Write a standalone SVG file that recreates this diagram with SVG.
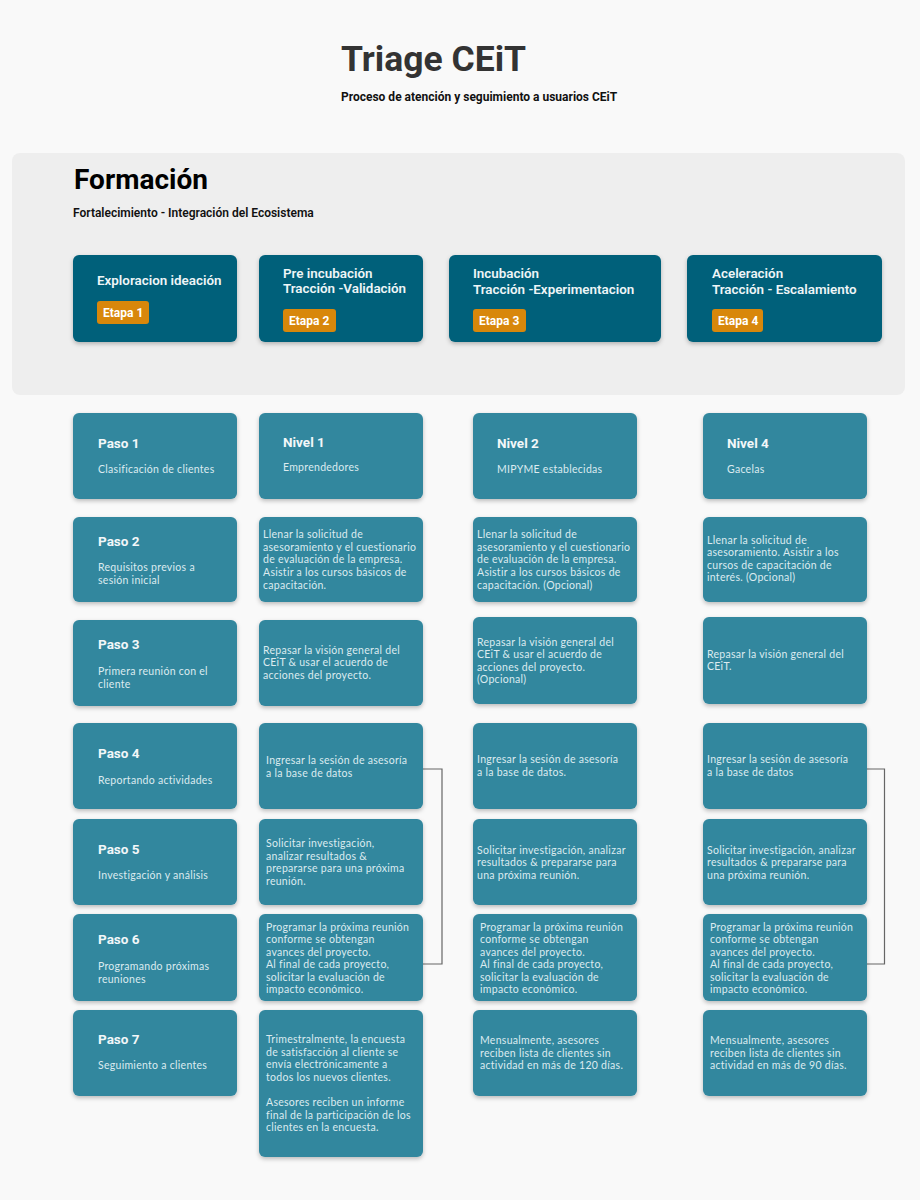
<svg xmlns="http://www.w3.org/2000/svg" width="920" height="1200" viewBox="0 0 920 1200">
<defs>
<filter id="sh" x="-10%" y="-10%" width="120%" height="130%">
<feDropShadow dx="0" dy="2" stdDeviation="2" flood-color="#000" flood-opacity="0.25"/>
</filter>
<style>
.title{font-family:Roboto,"Liberation Sans",sans-serif;font-weight:700;font-size:35.5px;fill:#333333}
.sub{font-family:Roboto,"Liberation Sans",sans-serif;font-weight:700;font-size:12px;fill:#111111}
.ptitle{font-family:Roboto,"Liberation Sans",sans-serif;font-weight:700;font-size:28px;fill:#000000}
.psub{font-family:Roboto,"Liberation Sans",sans-serif;font-weight:600;font-size:12px;fill:#111111}
.stage{fill:#03607a;filter:url(#sh)}
.card{fill:#32879e;filter:url(#sh)}
.badge{fill:#d8870b}
.sh{font-family:Roboto,"Liberation Sans",sans-serif;font-weight:600;font-size:13.4px;fill:#eef5f7}
.bt{font-family:Roboto,"Liberation Sans",sans-serif;font-weight:700;font-size:12px;fill:#ffffff}
.h{font-family:Roboto,"Liberation Sans",sans-serif;font-weight:700;font-size:13.5px;fill:#f2f7f9}
.t{font-family:Lato,"Liberation Sans",sans-serif;font-size:10.5px;letter-spacing:0.28px;fill:#dcebf0}
.conn{fill:none;stroke:#666666;stroke-width:1.2}
</style>
</defs>
<rect x="0" y="0" width="920" height="1200" fill="#f9f9f9"/>
<text class="title" x="341" y="71">Triage CEiT</text>
<text class="sub" x="341" y="101">Proceso de atención y seguimiento a usuarios CEiT</text>

<g id="panel">
<rect x="12" y="153" width="893" height="242" rx="8" fill="#eeeeee"/>
<text class="ptitle" x="74" y="189">Formación</text>
<text class="psub" x="73" y="217">Fortalecimiento - Integración del Ecosistema</text>
</g>

<g id="etapa1">
<rect class="stage" x="73" y="255" width="164" height="87" rx="6"/>
<text class="sh" x="97" y="285">Exploracion ideación</text>
<rect class="badge" x="97" y="301" width="52" height="23" rx="3"/>
<text class="bt" x="103" y="317">Etapa 1</text>
</g>
<g id="etapa2">
<rect class="stage" x="259" y="255" width="164" height="87" rx="6"/>
<text class="sh" x="283" y="278">Pre incubación</text>
<text class="sh" x="283" y="293">Tracción -Validación</text>
<rect class="badge" x="283" y="309" width="53" height="23" rx="3"/>
<text class="bt" x="289" y="325">Etapa 2</text>
</g>
<g id="etapa3">
<rect class="stage" x="449" y="255" width="212" height="87" rx="6"/>
<text class="sh" x="473" y="278">Incubación</text>
<text class="sh" x="473" y="294">Tracción -Experimentacion</text>
<rect class="badge" x="473" y="309" width="53" height="23" rx="3"/>
<text class="bt" x="479" y="325">Etapa 3</text>
</g>
<g id="etapa4">
<rect class="stage" x="687" y="255" width="195" height="87" rx="6"/>
<text class="sh" x="712" y="278">Aceleración</text>
<text class="sh" x="712" y="294">Tracción - Escalamiento</text>
<rect class="badge" x="712" y="309" width="51" height="23" rx="3"/>
<text class="bt" x="718" y="325">Etapa 4</text>
</g>

<g id="connectors">
<polyline class="conn" points="423,769 442,769 442,964 423,964"/>
<polyline class="conn" points="867,769 884.5,769 884.5,964 867,964"/>
</g>

<!-- Column 1 -->
<g id="paso1">
<rect class="card" x="73" y="413" width="164" height="86" rx="6"/>
<text class="h" x="98" y="448">Paso 1</text>
<text class="t" x="98" y="473">Clasificación de clientes</text>
</g>
<g id="paso2">
<rect class="card" x="73" y="517" width="164" height="85" rx="6"/>
<text class="h" x="98" y="546">Paso 2</text>
<text class="t" x="98" y="571">Requisitos previos a</text>
<text class="t" x="98" y="584">sesión inicial</text>
</g>
<g id="paso3">
<rect class="card" x="73" y="620" width="164" height="86" rx="6"/>
<text class="h" x="98" y="649">Paso 3</text>
<text class="t" x="98" y="675">Primera reunión con el</text>
<text class="t" x="98" y="688">cliente</text>
</g>
<g id="paso4">
<rect class="card" x="73" y="723" width="164" height="86" rx="6"/>
<text class="h" x="98" y="758">Paso 4</text>
<text class="t" x="98" y="784">Reportando actividades</text>
</g>
<g id="paso5">
<rect class="card" x="73" y="819" width="164" height="86" rx="6"/>
<text class="h" x="98" y="854">Paso 5</text>
<text class="t" x="98" y="879">Investigación y análisis</text>
</g>
<g id="paso6">
<rect class="card" x="73" y="914" width="164" height="87" rx="6"/>
<text class="h" x="98" y="944">Paso 6</text>
<text class="t" x="98" y="970">Programando próximas</text>
<text class="t" x="98" y="983">reuniones</text>
</g>
<g id="paso7">
<rect class="card" x="73" y="1010" width="164" height="86" rx="6"/>
<text class="h" x="98" y="1044">Paso 7</text>
<text class="t" x="98" y="1069">Seguimiento a clientes</text>
</g>

<!-- Column 2: Nivel 1 -->
<g id="nivel1">
<rect class="card" x="259" y="413" width="164" height="86" rx="6"/>
<text class="h" x="283" y="447">Nivel 1</text>
<text class="t" x="283" y="471">Emprendedores</text>
</g>
<g id="n1-paso2">
<rect class="card" x="259" y="517" width="164" height="85" rx="6"/>
<text class="t" x="263" y="538">Llenar la solicitud de</text>
<text class="t" x="263" y="551">asesoramiento y el cuestionario</text>
<text class="t" x="263" y="563">de evaluación de la empresa.</text>
<text class="t" x="263" y="576">Asistir a los cursos básicos de</text>
<text class="t" x="263" y="589">capacitación.</text>
</g>
<g id="n1-paso3">
<rect class="card" x="259" y="620" width="164" height="86" rx="6"/>
<text class="t" x="263" y="654">Repasar la visión general del</text>
<text class="t" x="263" y="666">CEiT &amp; usar el acuerdo de</text>
<text class="t" x="263" y="679">acciones del proyecto.</text>
</g>
<g id="n1-paso4">
<rect class="card" x="259" y="723" width="164" height="86" rx="6"/>
<text class="t" x="266" y="764">Ingresar la sesión de asesoría</text>
<text class="t" x="266" y="777">a la base de datos</text>
</g>
<g id="n1-paso5">
<rect class="card" x="259" y="819" width="164" height="86" rx="6"/>
<text class="t" x="266" y="847">Solicitar investigación,</text>
<text class="t" x="266" y="860">analizar resultados &amp;</text>
<text class="t" x="266" y="872">prepararse para una próxima</text>
<text class="t" x="266" y="885">reunión.</text>
</g>
<g id="n1-paso6">
<rect class="card" x="259" y="914" width="164" height="87" rx="6"/>
<text class="t" x="266" y="931">Programar la próxima reunión</text>
<text class="t" x="266" y="943">conforme se obtengan</text>
<text class="t" x="266" y="956">avances del proyecto.</text>
<text class="t" x="266" y="968">Al final de cada proyecto,</text>
<text class="t" x="266" y="981">solicitar la evaluación de</text>
<text class="t" x="266" y="993">impacto económico.</text>
</g>
<g id="n1-paso7">
<rect class="card" x="259" y="1010" width="164" height="147" rx="6"/>
<text class="t" x="266" y="1043">Trimestralmente, la encuesta</text>
<text class="t" x="266" y="1056">de satisfacción al cliente se</text>
<text class="t" x="266" y="1068">envía electrónicamente a</text>
<text class="t" x="266" y="1081">todos los nuevos clientes.</text>
<text class="t" x="266" y="1106">Asesores reciben un informe</text>
<text class="t" x="266" y="1119">final de la participación de los</text>
<text class="t" x="266" y="1131">clientes en la encuesta.</text>
</g>

<!-- Column 3: Nivel 2 -->
<g id="nivel2">
<rect class="card" x="473" y="413" width="164" height="86" rx="6"/>
<text class="h" x="497" y="448">Nivel 2</text>
<text class="t" x="497" y="473">MIPYME establecidas</text>
</g>
<g id="n2-paso2">
<rect class="card" x="473" y="517" width="164" height="85" rx="6"/>
<text class="t" x="477" y="538">Llenar la solicitud de</text>
<text class="t" x="477" y="551">asesoramiento y el cuestionario</text>
<text class="t" x="477" y="563">de evaluación de la empresa.</text>
<text class="t" x="477" y="576">Asistir a los cursos básicos de</text>
<text class="t" x="477" y="589">capacitación. (Opcional)</text>
</g>
<g id="n2-paso3">
<rect class="card" x="473" y="617" width="164" height="87" rx="6"/>
<text class="t" x="477" y="646">Repasar la visión general del</text>
<text class="t" x="477" y="658">CEiT &amp; usar el acuerdo de</text>
<text class="t" x="477" y="671">acciones del proyecto.</text>
<text class="t" x="477" y="683">(Opcional)</text>
</g>
<g id="n2-paso4">
<rect class="card" x="473" y="723" width="164" height="86" rx="6"/>
<text class="t" x="477" y="763">Ingresar la sesión de asesoría</text>
<text class="t" x="477" y="776">a la base de datos.</text>
</g>
<g id="n2-paso5">
<rect class="card" x="473" y="819" width="164" height="86" rx="6"/>
<text class="t" x="477" y="854">Solicitar investigación, analizar</text>
<text class="t" x="477" y="866">resultados &amp; prepararse para</text>
<text class="t" x="477" y="879">una próxima reunión.</text>
</g>
<g id="n2-paso6">
<rect class="card" x="473" y="914" width="164" height="87" rx="6"/>
<text class="t" x="480" y="931">Programar la próxima reunión</text>
<text class="t" x="480" y="943">conforme se obtengan</text>
<text class="t" x="480" y="956">avances del proyecto.</text>
<text class="t" x="480" y="968">Al final de cada proyecto,</text>
<text class="t" x="480" y="981">solicitar la evaluación de</text>
<text class="t" x="480" y="993">impacto económico.</text>
</g>
<g id="n2-paso7">
<rect class="card" x="473" y="1010" width="164" height="86" rx="6"/>
<text class="t" x="480" y="1044">Mensualmente, asesores</text>
<text class="t" x="480" y="1057">reciben lista de clientes sin</text>
<text class="t" x="480" y="1069">actividad en más de 120 días.</text>
</g>

<!-- Column 4: Nivel 4 -->
<g id="nivel4">
<rect class="card" x="703" y="413" width="164" height="86" rx="6"/>
<text class="h" x="727" y="448">Nivel 4</text>
<text class="t" x="727" y="473">Gacelas</text>
</g>
<g id="n4-paso2">
<rect class="card" x="703" y="517" width="164" height="85" rx="6"/>
<text class="t" x="707" y="544">Llenar la solicitud de</text>
<text class="t" x="707" y="556">asesoramiento. Asistir a los</text>
<text class="t" x="707" y="569">cursos de capacitación de</text>
<text class="t" x="707" y="581">interés. (Opcional)</text>
</g>
<g id="n4-paso3">
<rect class="card" x="703" y="617" width="164" height="87" rx="6"/>
<text class="t" x="707" y="658">Repasar la visión general del</text>
<text class="t" x="707" y="670">CEiT.</text>
</g>
<g id="n4-paso4">
<rect class="card" x="703" y="723" width="164" height="86" rx="6"/>
<text class="t" x="707" y="763">Ingresar la sesión de asesoría</text>
<text class="t" x="707" y="776">a la base de datos</text>
</g>
<g id="n4-paso5">
<rect class="card" x="703" y="819" width="164" height="86" rx="6"/>
<text class="t" x="707" y="854">Solicitar investigación, analizar</text>
<text class="t" x="707" y="866">resultados &amp; prepararse para</text>
<text class="t" x="707" y="879">una próxima reunión.</text>
</g>
<g id="n4-paso6">
<rect class="card" x="703" y="914" width="164" height="87" rx="6"/>
<text class="t" x="710" y="931">Programar la próxima reunión</text>
<text class="t" x="710" y="943">conforme se obtengan</text>
<text class="t" x="710" y="956">avances del proyecto.</text>
<text class="t" x="710" y="968">Al final de cada proyecto,</text>
<text class="t" x="710" y="981">solicitar la evaluación de</text>
<text class="t" x="710" y="993">impacto económico.</text>
</g>
<g id="n4-paso7">
<rect class="card" x="703" y="1010" width="164" height="86" rx="6"/>
<text class="t" x="710" y="1044">Mensualmente, asesores</text>
<text class="t" x="710" y="1057">reciben lista de clientes sin</text>
<text class="t" x="710" y="1069">actividad en más de 90 días.</text>
</g>
</svg>
